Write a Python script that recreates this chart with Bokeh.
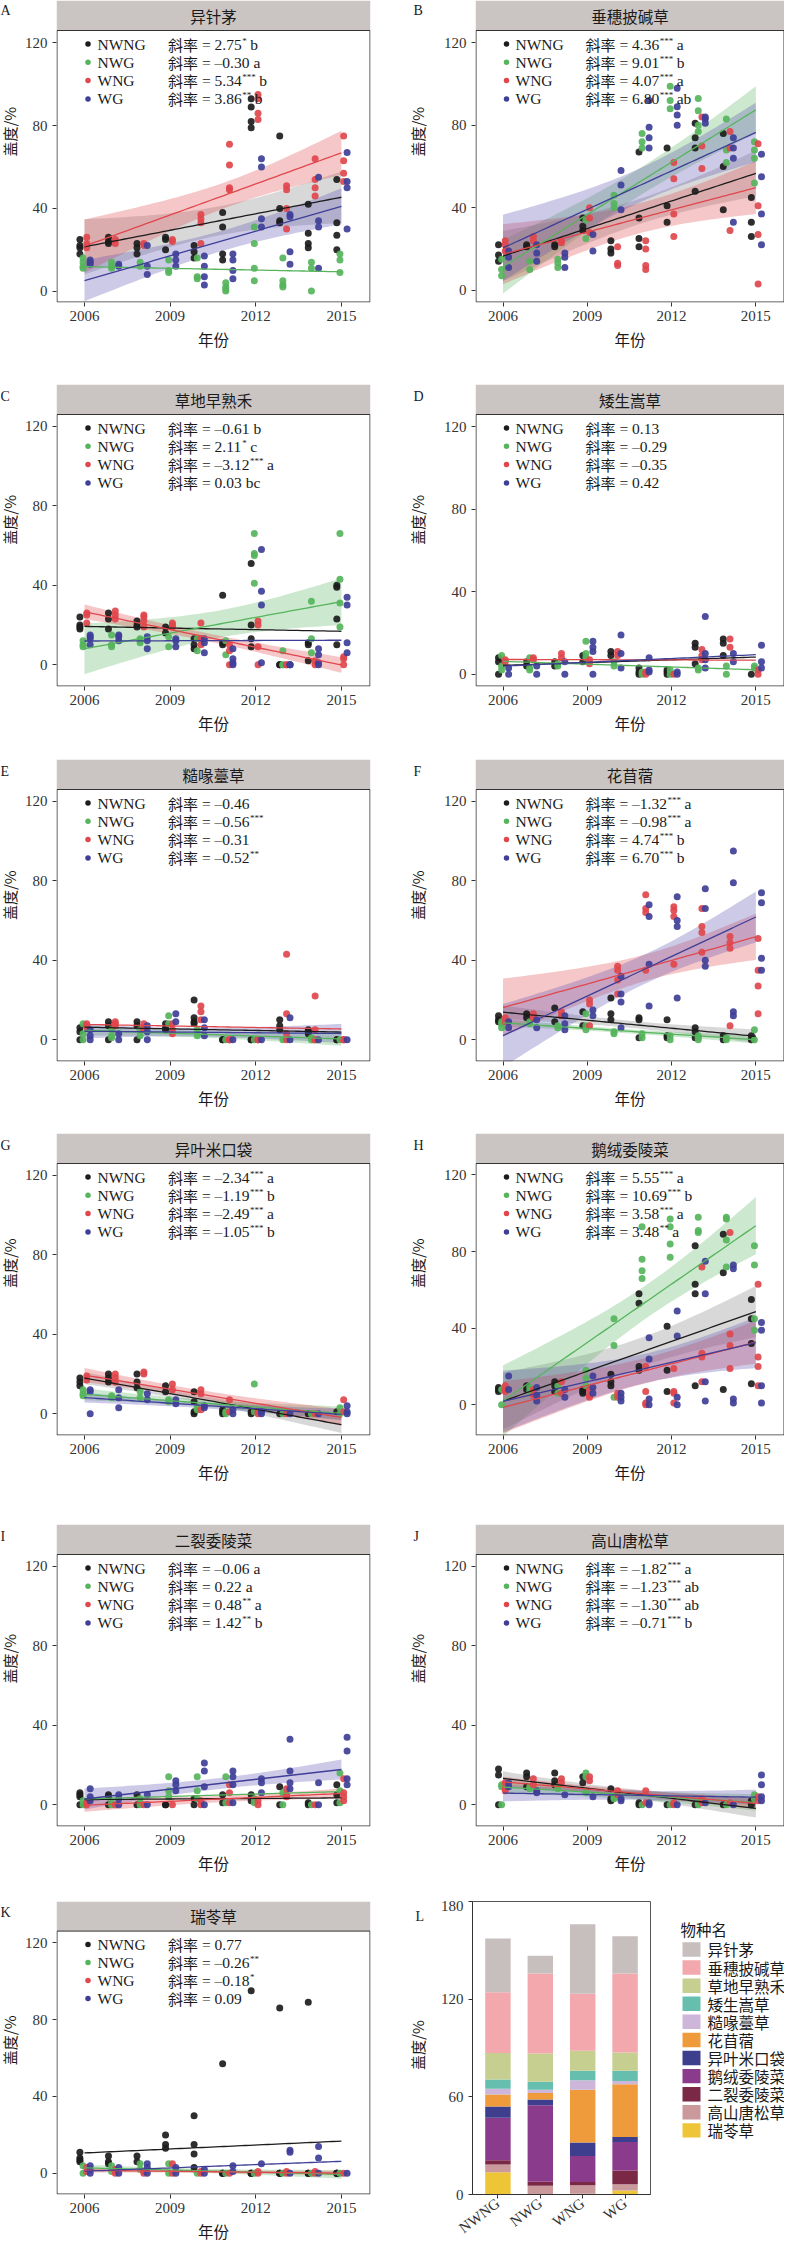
import numpy as np
from bokeh.plotting import figure
from bokeh.models import Range1d, FixedTicker, ColumnDataSource
from bokeh.layouts import column, row
from bokeh.embed import file_html
from bokeh.resources import INLINE
from bokeh.core.properties import value

# ---------------- data ----------------
years = [2006, 2007, 2008, 2009, 2010, 2011, 2012, 2013, 2014, 2015]
groups = ["NWNG", "NWG", "WNG", "WG"]

A_NWNG = [[25,22,21,18],[26,24,23],[23,21,18],[26,25,20],[22,19,16],[38,31,18,15],[93,89,82,79],[75,40,34,33],[42,28,23,21],[54,33,27,20]]
A_NWG = [[16,14,12,11],[14,12,11],[14,12],[15,10,9],[16,7,6],[4,2,1,0],[31,23,11,5],[16,5,3,2],[14,11,0],[18,15,9]]
A_WNG = [[26,23,21],[25,23],[23,22],[25,24],[37,35,33,23],[71,61,50,49],[95,93,86,83],[51,49,40,30],[64,54,50,46],[75,63,57,53]]
A_WG = [[15,14,13],[13,12],[22,12,8],[18,15,12],[17,12,7,3],[18,15,10,6],[64,60,35,31],[37,36,19,13],[55,34,31,11],[67,53,50,30]]

B_NWNG = [[22,17,14],[22,21],[22,21],[35,31,29],[24,20,18],[67,35,25,21],[69,41,33],[81,74,69,48],[76,60,39],[45,33,26]]
B_NWG = [[15,10,7],[14,10],[15,13,11],[34,25],[46,42,40],[76,72,69],[99,92,88],[93,87,80,77],[83,68,62],[72,68,64,52]]
B_WNG = [[24,22,19],[26,24],[24,23],[40,35,28],[21,13,12],[24,20,12,10],[62,54,37,26],[84,70,59],[77,69,29],[71,41,27,3]]
B_WG = [[19,16,11],[22,18,14],[18,16,11],[27,19],[58,51,39],[92,79,74,69],[98,89,85,80],[84,83,81],[74,69,64,33],[66,55,37,22]]

C_NWNG = [[24,20,19,18],[26,23,18],[22,20,19],[19,16],[13,10,8],[35,11,10],[51,20,13,9],[0,0],[11,10,2],[40,39,23,10]]
C_NWG = [[12,10,9],[15,10,9],[13,12,11],[14,9],[13,7],[12,5],[66,56,55,41],[7,0,0],[32,13,6],[66,43,31,19]]
C_WNG = [[26,25,21],[27,25,23],[25,24,22,19],[21,20,19],[21,13,10],[10,7,0],[22,20,9,0],[0,0],[2,0],[4,3,0]]
C_WG = [[15,14,13,10],[15,14,12],[14,12,8],[13,12,9],[13,11,6],[8,3,1,0],[58,37,30,1],[0,0,0],[8,5,1,0],[34,30,11,6]]

D_NWNG = [[8,6,0],[6,4],[6,4],[9,6],[11,9],[3,1,0],[2,1,0],[15,13,5],[17,15,9],[0]]
D_NWG = [[9,4,2],[8,3,2],[5,4],[16,10,8],[6,4],[1,0],[2,0],[3,2],[4,0],[4,3]]
D_WNG = [[7,6],[8,7],[10,8],[7,5],[11,9],[1,0],[0],[12,9,7],[17,13],[2,0]]
D_WG = [[3,0],[4,0],[6,0],[16,13,11,0],[19,10,3],[8,2,1],[1,0],[28,10,7,3],[10,6],[14,6,3]]

E_NWNG = [[6,4,0],[9,7,0],[9,7,0],[8,6,5],[20,11,9,8],[0,0],[0,0],[10,7,5],[5,4,3],[0,0]]
E_NWG = [[8,3,0],[5,2,1],[5,2],[12,8],[5,2],[0],[0],[0],[1,0],[0]]
E_WNG = [[8,7,6],[9,8,7],[8,6,5],[8,5,3],[17,14,10],[0,0,0],[0,0,0],[43,13,3,0],[22,5,0,0],[0,0,0]]
E_WG = [[5,2,0],[3,0],[7,4,0],[13,9],[10,6,2],[0],[0],[11,0],[0],[0]]

F_NWNG = [[12,10,9],[13,11],[16,9],[14,7],[21,13,10],[11,10,1],[10,2,1],[6,4,1],[2,0],[2,0]]
F_NWG = [[9,8,6],[9,8],[7,6],[13,7,5],[4,3],[3,1],[2,0],[2,1,0],[1,0],[5,0]]
F_WNG = [[11,9],[13,11],[14,12],[20,18,7],[37,35,30,23],[73,66,64,35],[67,65,62,38],[66,57,54,44],[52,49,46,7],[51,35,27,13]]
F_WG = [[9,6],[10,6],[12,8,5],[15,12],[32,23,19,6],[68,62,38,17],[72,60,57,21],[76,66,40,37],[95,79,14,12],[74,69,41,35]]

G_NWNG = [[18,16,14],[20,18,16],[20,16,13],[14,11],[11,6,1,0],[2,1,0],[1,0],[0],[0],[1]]
G_NWG = [[12,10,9],[9,8],[11,8],[7,6],[3,2],[1,0],[15,1],[0],[0],[3,0]]
G_WNG = [[19,17],[20,18,16],[21,20],[15,12],[12,10,2],[7,1],[1,0],[0],[0],[7,1]]
G_WG = [[12,11,0],[12,8,3],[10,7],[7,5],[4,3],[2,0],[1,0],[0],[0],[4,1,0]]

H_NWNG = [[9,8,7],[10,8],[12,10,7],[8,7,6],[16,12,10],[58,53,20,18],[41,18,7],[83,63,58,10],[89,69,8],[55,45,32,11]]
H_NWG = [[8,0],[9,7],[10,6],[18,14,10],[45,31,4],[93,76,70,66],[97,93,84,77],[98,91,90],[98,97,86,72],[83,73,45,39]]
H_WNG = [[10,8,7],[8,5],[12,6],[8,5,4],[6,4],[20,7,1,0],[19,7,6,1],[72,27,25,12],[90,37,31,19],[63,25,20,10]]
H_WG = [[15,8],[9,5,2],[8,4],[15,9,6],[6,4,2],[35,24,3,0],[49,36,4,0],[75,58,12,2],[73,71,3,1],[43,39,10,1]]

I_NWNG = [[6,5,4,0],[5,4,0],[5,0],[0,0],[3,0],[5,1],[5,2],[9,0],[1,0],[10,5,1]]
I_NWG = [[2,0],[1,0],[3,0],[14,7,4],[14,7,3],[14,1],[3,1],[6,0],[0],[16,7,1]]
I_WNG = [[1,0],[0],[0],[0],[2,0],[10,6,1],[2,0],[8,5,4],[0],[13,6,4,2]]
I_WG = [[8,4,2],[5,3,0],[5,0],[12,10,7],[21,17,9,0],[17,14,10,1],[13,11,6],[33,17,11,8],[11,0],[34,27,13,10]]

J_NWNG = [[18,15,0],[16,14,9],[16,12,10],[14,11],[8,3,2],[1,0],[0],[0],[0],[2,0]]
J_NWG = [[10,9,0],[9,8],[9,8],[16,14,6],[4,3],[0],[0],[1,0],[0],[5,3]]
J_WNG = [[11,8,7],[13,10],[13,11],[14,12],[7,5],[7,1],[1,0],[3,1],[1],[4,2]]
J_WG = [[11,9],[7,6],[5],[4],[3,2],[1,0],[0],[1],[0],[15,10,4,2]]

K_NWNG = [[11,8,7,6],[9,6,5],[9,6],[20,15,13],[30,15,10,3],[57,0,0,0],[95,0,0,0],[86,0,0,0],[89,0,0,0],[0,0,0,0]]
K_NWG = [[4,0],[4,1],[5,2],[5,0],[0],[0],[0],[0],[0],[0]]
K_WNG = [[3,1],[2,0],[1,0],[5,0],[1,0],[0],[1,0],[1,0],[1,0],[0]]
K_WG = [[4,2,0],[3,0],[5,3,0],[3,0],[2,0],[4,1],[5],[12,11,0],[14,8,0],[0]]

panel_keys = ["A", "B", "C", "D", "E", "F", "G", "H", "I", "J", "K"]
species = ["异针茅", "垂穗披碱草", "草地早熟禾", "矮生嵩草", "糙喙薹草", "花苜蓿",
           "异叶米口袋", "鹅绒委陵菜", "二裂委陵菜", "高山唐松草", "瑞苓草"]
panel_data = {
    "A": [A_NWNG, A_NWG, A_WNG, A_WG], "B": [B_NWNG, B_NWG, B_WNG, B_WG],
    "C": [C_NWNG, C_NWG, C_WNG, C_WG], "D": [D_NWNG, D_NWG, D_WNG, D_WG],
    "E": [E_NWNG, E_NWG, E_WNG, E_WG], "F": [F_NWNG, F_NWG, F_WNG, F_WG],
    "G": [G_NWNG, G_NWG, G_WNG, G_WG], "H": [H_NWNG, H_NWG, H_WNG, H_WG],
    "I": [I_NWNG, I_NWG, I_WNG, I_WG], "J": [J_NWNG, J_NWG, J_WNG, J_WG],
    "K": [K_NWNG, K_NWG, K_WNG, K_WG],
}
slopes = {
    "A": ["2.75", "–0.30", "5.34", "3.86"], "B": ["4.36", "9.01", "4.07", "6.80"],
    "C": ["–0.61", "2.11", "–3.12", "0.03"], "D": ["0.13", "–0.29", "–0.35", "0.42"],
    "E": ["–0.46", "–0.56", "–0.31", "–0.52"], "F": ["–1.32", "–0.98", "4.74", "6.70"],
    "G": ["–2.34", "–1.19", "–2.49", "–1.05"], "H": ["5.55", "10.69", "3.58", "3.48"],
    "I": ["–0.06", "0.22", "0.48", "1.42"], "J": ["–1.82", "–1.23", "–1.30", "–0.71"],
    "K": ["0.77", "–0.26", "–0.18", "0.09"],
}
signif = {
    "A": ["*", "", "***", "**"], "B": ["***", "***", "***", "***"],
    "C": ["", "*", "***", ""], "D": ["", "", "", ""],
    "E": ["", "***", "", "**"], "F": ["***", "***", "***", "***"],
    "G": ["***", "***", "***", "***"], "H": ["***", "***", "***", "**"],
    "I": ["", "", "**", "**"], "J": ["***", "***", "***", "***"],
    "K": ["", "**", "*", ""],
}
letters = {
    "A": ["b", "a", "b", "b"], "B": ["a", "b", "a", "ab"], "C": ["b", "c", "a", "bc"],
    "D": ["", "", "", ""], "E": ["", "", "", ""], "F": ["a", "a", "b", "b"],
    "G": ["a", "b", "a", "b"], "H": ["a", "b", "a", "a"], "I": ["a", "a", "a", "b"],
    "J": ["a", "ab", "ab", "b"], "K": ["", "", "", ""],
}
y_low = {"A": -5.5, "B": -6, "C": -11, "D": -6, "E": -11, "F": -11, "G": -11,
         "H": -16, "I": -11, "J": -11, "K": -11}

# panel L: mean cover (%) per species (species order above)
cover_NWNG = [32.9, 37.3, 16.4, 5.7, 3.5, 7.3, 6.9, 26.2, 2.5, 4.9, 13.6]
cover_NWG = [10.9, 49.1, 17.3, 5.0, 1.9, 4.0, 3.5, 47.0, 2.6, 5.0, 0.3]
cover_WNG = [42.6, 35.1, 12.2, 5.9, 5.9, 32.4, 8.3, 15.9, 2.0, 5.2, 0.5]
cover_WG = [22.9, 48.4, 11.2, 6.4, 2.0, 32.3, 3.1, 17.5, 8.5, 3.9, 2.4]

# ---------------- style ----------------
GROUP_COLORS = ["#1c1c1c", "#56b45c", "#e0474c", "#3f3f98"]
BAND_COLORS = ["#8f8f8f", "#56b45c", "#e0474c", "#5b50b0"]
BAND_ALPHA = [0.35, 0.3, 0.3, 0.3]
DODGE = [-0.16, -0.05, 0.08, 0.2]
SPECIES_COLORS = ["#c6bfbe", "#f2a8ac", "#c6cf90", "#66bfae", "#cdb6da", "#ef9b3b",
                  "#3d3f8e", "#8b3b8c", "#7a2845", "#c9999c", "#efc538"]
XS, XE = 2005.02, 2016.02
YTOP = 126.0
SERIF = "Liberation Serif"
CJK = "Noto Sans CJK SC"
TXT = "#1a1a1a"
AX = "#333333"
STRIP = "#cac4c3"

WEM = {' ': 0.25, '=': 0.564, '.': 0.25, '–': 0.5, '-': 0.333, 'a': 0.444,
       'b': 0.5, 'c': 0.444, '*': 0.5}


def serif_w(s, size):
    return sum(WEM.get(ch, 0.5) for ch in s) * size


def fit(series):
    xs, ys = [], []
    for yr, vals in zip(years, series):
        for v in vals:
            xs.append(yr)
            ys.append(v)
    x = np.array(xs, float)
    y = np.array(ys, float)
    n = len(x)
    xm = x.mean()
    sxx = ((x - xm) ** 2).sum()
    b = ((x - xm) * (y - y.mean())).sum() / sxx
    a = y.mean() - b * xm
    s = np.sqrt(((y - (a + b * x)) ** 2).sum() / (n - 2))
    xg = np.linspace(years[0], years[-1], 60)
    yg = a + b * xg
    se = s * np.sqrt(1.0 / n + (xg - xm) ** 2 / sxx)
    t = 1.96 + 2.5 / (n - 2)
    return xg, yg, yg - t * se, yg + t * se


def base_fig(width, height, xr, yr, **kw):
    p = figure(width=width, height=height, x_range=xr, y_range=yr,
               output_backend="svg", toolbar_location=None, **kw)
    p.grid.visible = False
    p.background_fill_color = "white"
    p.border_fill_color = "white"
    return p


def style_axes(p):
    for ax in (p.xaxis[0], p.yaxis[0]):
        ax.major_tick_in = 0
        ax.major_tick_out = 4
        ax.major_tick_line_color = AX
        ax.minor_tick_line_color = None
        ax.major_label_text_font = SERIF
        ax.major_label_text_font_size = "15px"
        ax.major_label_text_color = AX
    p.xaxis.major_label_standoff = 4
    p.yaxis.major_label_standoff = 5


def gutter(width, fig_h, letter, lx, ly, tx, ty):
    """Left margin strip holding the panel letter and the y-axis title (pixel data units)."""
    g = base_fig(width, fig_h, Range1d(0, width), Range1d(0, fig_h),
                 x_axis_location=None, y_axis_location=None, min_border=0)
    g.outline_line_color = None
    g.text(x=[lx], y=[ly], text=[letter], text_font=value(SERIF), text_font_size=value("14px"),
           text_color=TXT, text_baseline="alphabetic")
    g.text(x=[tx], y=[ty], text=["盖度/%"], text_font=value(CJK), text_font_size=value("15px"),
           text_color=TXT, angle=np.pi / 2, text_align="center", text_baseline="middle")
    return g


def make_panel(key, col, fig_h, top_b, frame_h):
    left_b = 36 if col == 0 else 43
    right_b = 22 if col == 0 else 0
    width = 372 if col == 0 else 352
    frame_w = width - left_b - right_b
    strip_h = 30
    panel_h = frame_h - strip_h
    ylo = y_low[key]
    upp = (YTOP - ylo) / panel_h
    yhi = YTOP + strip_h * upp
    bot_b = fig_h - top_b - frame_h
    p = base_fig(width, fig_h, Range1d(XS, XE), Range1d(ylo, yhi),
                 min_border_left=left_b, min_border_right=right_b,
                 min_border_top=top_b, min_border_bottom=bot_b)
    p.outline_line_color = None
    style_axes(p)
    p.xaxis.axis_line_color = None
    p.yaxis.axis_line_color = None
    p.xaxis.ticker = FixedTicker(ticks=[2006, 2009, 2012, 2015])
    p.yaxis.ticker = FixedTicker(ticks=[0, 40, 80, 120])
    p.xaxis.axis_label = "年份"
    p.xaxis.axis_label_text_font = CJK
    p.xaxis.axis_label_text_font_size = "15.5px"
    p.xaxis.axis_label_text_font_style = "normal"
    p.xaxis.axis_label_text_color = TXT
    p.xaxis.axis_label_standoff = 4

    upx = (XE - XS) / frame_w

    def px_x(px):
        return XS + px * upx

    def px_y(px):
        return YTOP - px * upp

    data = panel_data[key]
    fits = [fit(s) for s in data]
    for g in range(4):
        if signif[key][g]:
            xg, yg, lo, hi = fits[g]
            p.varea(x=xg, y1=lo, y2=hi, fill_color=BAND_COLORS[g], fill_alpha=BAND_ALPHA[g])
    for g in range(4):
        xs, ys = [], []
        for yr, vals in zip(years, data[g]):
            for v in vals:
                xs.append(yr + DODGE[g])
                ys.append(v)
        p.scatter(x=xs, y=ys, size=7, marker="circle", fill_color=GROUP_COLORS[g],
                  line_color=None, fill_alpha=0.92)
    for g in range(4):
        xg, yg, lo, hi = fits[g]
        p.line(x=xg, y=yg, line_color=GROUP_COLORS[g], line_width=1.3)

    # in-panel key with slopes
    dot_px = 31.5 if col == 0 else 31
    name_px = 41 if col == 0 else 40
    cjk_px = 111.5 if col == 0 else 110
    for g in range(4):
        rpx = 13.5 + 18.3 * g
        yy = px_y(rpx)
        p.scatter(x=[px_x(dot_px)], y=[yy], size=5.5, marker="circle",
                  fill_color=GROUP_COLORS[g], line_color=None)
        p.text(x=[px_x(name_px)], y=[yy], text=[groups[g]], text_font=value(SERIF),
               text_font_size=value("15.5px"), text_color=TXT, text_baseline="middle")
        p.text(x=[px_x(cjk_px)], y=[yy], text=["斜率"], text_font=value(CJK),
               text_font_size=value("15px"), text_color=TXT, text_baseline="middle")
        rest = "= " + slopes[key][g]
        rx = cjk_px + 30 + 4
        p.text(x=[px_x(rx)], y=[yy], text=[rest], text_font=value(SERIF),
               text_font_size=value("15.5px"), text_color=TXT, text_baseline="middle")
        end = rx + serif_w(rest, 15.5)
        sig = signif[key][g]
        if sig:
            p.text(x=[px_x(end + 0.5)], y=[px_y(rpx - 3.5)], text=[sig], text_font=value(SERIF),
                   text_font_size=value("9px"), text_color=TXT, text_baseline="middle")
        lt = letters[key][g]
        if lt:
            lx = end + (serif_w(sig, 9) + 4 if sig else 4)
            p.text(x=[px_x(lx)], y=[yy], text=[lt], text_font=value(SERIF),
                   text_font_size=value("15.5px"), text_color=TXT, text_baseline="middle")

    # facet strip and panel border
    p.quad(left=[XS], right=[XE], bottom=[YTOP], top=[yhi], fill_color=STRIP, line_color=None)
    p.text(x=[(XS + XE) / 2], y=[YTOP + 15 * upp], text=[species[panel_keys.index(key)]],
           text_font=value(CJK), text_font_size=value("15.5px"), text_color=TXT,
           text_align="center", text_baseline="middle")
    p.quad(left=[XS + 0.5 * upx], right=[XE - 0.5 * upx], bottom=[ylo + 0.5 * upp], top=[YTOP],
           fill_color=None, line_color=AX, line_width=1)
    return p


def panel_with_gutter(key, col, fig_h, top_b, frame_h):
    panel_h = frame_h - 30
    letter_y = fig_h - top_b - 13
    title_y = fig_h - top_b - 30 - panel_h / 2
    if col == 0:
        g = gutter(20, fig_h, key, 0, letter_y, 8.5, title_y)
    else:
        g = gutter(40, fig_h, key, 21, letter_y, 25, title_y)
    return [g, make_panel(key, col, fig_h, top_b, frame_h)]


rows_cfg = [("A", "B", 382, 0, 302), ("C", "D", 375, 2, 302), ("E", "F", 374, 2, 302),
            ("G", "H", 391, 2, 302), ("I", "J", 378, 2, 302)]
layout_rows = []
for lk, rk, h, t, fh in rows_cfg:
    layout_rows.append(row(*panel_with_gutter(lk, 0, h, t, fh),
                           *panel_with_gutter(rk, 1, h, t, fh), spacing=0))

K_parts = panel_with_gutter("K", 0, 345, 0, 297)

# ---------------- panel L ----------------
stack_order = species[::-1]
src = {"x": [1, 2, 3, 4]}
for i, sp in enumerate(species):
    src[sp] = [cover_NWNG[i], cover_NWG[i], cover_WNG[i], cover_WG[i]]
stack_colors = SPECIES_COLORS[::-1]

gL = gutter(45, 345, "L", 23, 345 - 18, 25, 176)

pL = base_fig(215, 345, Range1d(0.4, 4.6), Range1d(0, 180),
              min_border_left=33, min_border_right=2, min_border_top=1, min_border_bottom=44)
pL.outline_line_color = "#555555"
pL.vbar_stack(stack_order, x="x", width=0.6, color=stack_colors, line_color=None,
              source=ColumnDataSource(src))
style_axes(pL)
pL.xaxis.axis_line_color = AX
pL.yaxis.axis_line_color = AX
pL.yaxis.ticker = FixedTicker(ticks=[0, 60, 120, 180])
pL.xaxis.ticker = FixedTicker(ticks=[1, 2, 3, 4])
pL.xaxis.major_label_overrides = {1: groups[0], 2: groups[1], 3: groups[2], 4: groups[3]}
pL.xaxis.major_label_orientation = 0.65
pL.xaxis.major_label_standoff = 3

# key for panel L (pixel units: x from left, y from bottom of this 132x345 box)
LEG_W, LEG_H = 132, 345
pG = base_fig(LEG_W, LEG_H, Range1d(0, LEG_W), Range1d(0, LEG_H), x_axis_location=None,
              y_axis_location=None, min_border=0)
pG.outline_line_color = None
pG.text(x=[28], y=[LEG_H - 32], text=["物种名"], text_font=value(CJK),
        text_font_size=value("15.5px"), text_color=TXT, text_baseline="middle")
sw_top = [LEG_H - (48 + 21.3 * i) for i in range(len(species))]
pG.quad(left=[30] * len(species), right=[48] * len(species), top=sw_top,
        bottom=[t - 17 for t in sw_top], fill_color=SPECIES_COLORS, line_color=None)
pG.text(x=[55] * len(species), y=[t - 8.5 for t in sw_top], text=species,
        text_font=value(CJK), text_font_size=value("15.5px"), text_color=TXT,
        text_baseline="middle")

layout_rows.append(row(*K_parts, gL, pL, pG, spacing=0))
page = column(*layout_rows, spacing=0)

open("out.html", "w").write(file_html(page, INLINE))
